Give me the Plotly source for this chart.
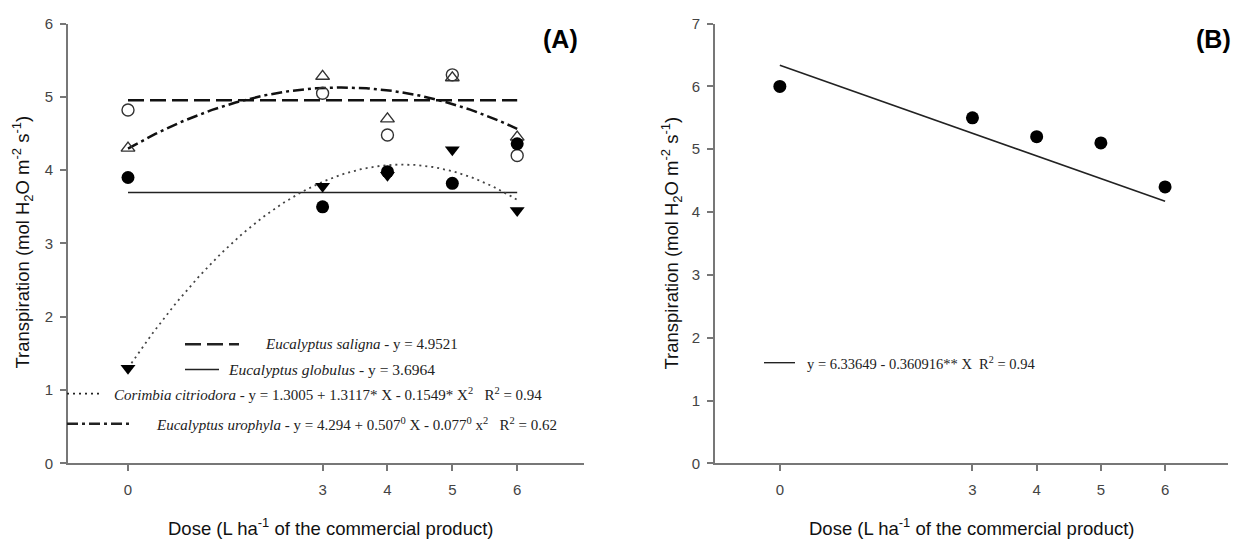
import numpy as np
import plotly.graph_objects as go

W, H = 1243, 548

# ---------------- data ----------------
doses = [0, 3, 4, 5, 6]
saligna = [4.82, 5.05, 4.48, 5.30, 4.20]      # open circles
urophyla = [4.30, 5.28, 4.70, 5.26, 4.45]     # open triangles
globulus = [3.90, 3.50, 3.98, 3.82, 4.36]     # filled circles
citriodora = [1.30, 3.78, 3.93, 4.28, 3.45]   # filled down triangles
panel_b = [6.00, 5.50, 5.20, 5.10, 4.40]

saligna_mean = 4.9521
globulus_mean = 3.6964
citriodora_coef = [1.3005, 1.3117, -0.1549]
urophyla_coef = [4.294, 0.507, -0.077]
b_coef = [6.33649, -0.360916]

x_ticks = [0, 3, 4, 5, 6]
x_tick_labels = ["0", "3", "4", "5", "6"]

xs = np.linspace(0, 6, 200)


def quad(c, x):
    return c[0] + c[1] * x + c[2] * x ** 2


def px(x):
    return x / W


def py(y):
    return 1 - y / H


DASH = "16px,6px"
DASHDOT = "11px,4px,3px,4px"
DOT = "2px,4px"

fig = go.Figure()

# Panel A fits
fig.add_trace(go.Scatter(x=[0, 6], y=[saligna_mean, saligna_mean], mode="lines",
                         line=dict(color="#111", width=2.5, dash=DASH),
                         xaxis="x", yaxis="y"))
fig.add_trace(go.Scatter(x=[0, 6], y=[globulus_mean, globulus_mean], mode="lines",
                         line=dict(color="#222", width=1.4),
                         xaxis="x", yaxis="y"))
fig.add_trace(go.Scatter(x=xs, y=quad(citriodora_coef, xs), mode="lines",
                         line=dict(color="#444", width=1.8, dash=DOT),
                         xaxis="x", yaxis="y"))
fig.add_trace(go.Scatter(x=xs, y=quad(urophyla_coef, xs), mode="lines",
                         line=dict(color="#111", width=2.5, dash=DASHDOT),
                         xaxis="x", yaxis="y"))

# Panel A points
fig.add_trace(go.Scatter(x=doses, y=saligna, mode="markers",
                         marker=dict(symbol="circle-open", size=12, color="#333",
                                     line=dict(width=1.4, color="#333")),
                         xaxis="x", yaxis="y"))
fig.add_trace(go.Scatter(x=doses, y=urophyla, mode="markers",
                         marker=dict(symbol="triangle-up-open", size=12, color="#333",
                                     line=dict(width=1.4, color="#333")),
                         xaxis="x", yaxis="y"))
fig.add_trace(go.Scatter(x=doses, y=globulus, mode="markers",
                         marker=dict(symbol="circle", size=13, color="#000"),
                         xaxis="x", yaxis="y"))
fig.add_trace(go.Scatter(x=doses, y=citriodora, mode="markers",
                         marker=dict(symbol="triangle-down", size=13, color="#000"),
                         xaxis="x", yaxis="y"))

# Panel B
fig.add_trace(go.Scatter(x=[0, 6], y=[b_coef[0], b_coef[0] + b_coef[1] * 6], mode="lines",
                         line=dict(color="#222", width=1.6),
                         xaxis="x2", yaxis="y2"))
fig.add_trace(go.Scatter(x=doses, y=panel_b, mode="markers",
                         marker=dict(symbol="circle", size=13, color="#000"),
                         xaxis="x2", yaxis="y2"))

ydom = [py(469), py(15)]
tickfont = dict(family="Liberation Sans, Arial", size=15, color="#444")
axis_common = dict(showline=True, linecolor="#777", linewidth=2, ticks="outside",
                   ticklen=6, tickcolor="#777", tickwidth=1.5, showgrid=False, zeroline=False,
                   tickfont=tickfont)

fig.update_layout(
    width=W, height=H, autosize=False, margin=dict(l=0, r=0, t=0, b=0),
    paper_bgcolor="white", plot_bgcolor="white", showlegend=False,
    xaxis=dict(domain=[px(68), px(584)], range=[-0.925, 7.03], tickvals=x_ticks,
               ticktext=x_tick_labels, anchor="y", ticklabelstandoff=6, **axis_common),
    yaxis=dict(domain=ydom, range=[0, 6], tickvals=[0, 1, 2, 3, 4, 5, 6], anchor="x",
               ticklabelstandoff=4, **axis_common),
    xaxis2=dict(domain=[px(715), px(1228)], range=[-1.01, 6.98], tickvals=x_ticks,
                ticktext=x_tick_labels, anchor="y2", ticklabelstandoff=6, **axis_common),
    yaxis2=dict(domain=ydom, range=[0, 7], tickvals=[0, 1, 2, 3, 4, 5, 6, 7], anchor="x2",
                ticklabelstandoff=4, **axis_common),
)

ann = []
sans = "Liberation Sans, Arial"
serif = "Liberation Serif, Times New Roman"
ytitle = "Transpiration (mol H<sub>2</sub>O m<sup>-2</sup> s<sup>-1</sup>)"
xtitle = "Dose (L ha<sup>-1</sup> of the commercial product)"
for cx in (23, 672):
    ann.append(dict(x=px(cx), y=py(241), xref="paper", yref="paper", text=ytitle,
                    textangle=-90, showarrow=False, xanchor="center", yanchor="middle",
                    font=dict(family=sans, size=18.5, color="#111")))
for cx in (330, 971):
    ann.append(dict(x=px(cx), y=py(535), xref="paper", yref="paper", text=xtitle,
                    showarrow=False, xanchor="center", yanchor="middle",
                    font=dict(family=sans, size=18.5, color="#111")))
ann.append(dict(x=px(560), y=py(31), xref="paper", yref="paper", text="<b>(A)</b>",
                showarrow=False, xanchor="center", yanchor="middle",
                font=dict(family=sans, size=25, color="#000")))
ann.append(dict(x=px(1213), y=py(31), xref="paper", yref="paper", text="<b>(B)</b>",
                showarrow=False, xanchor="center", yanchor="middle",
                font=dict(family=sans, size=25, color="#000")))

legend_rows = [
    (263, 346, 15, "<i>Eucalyptus saligna</i> - y = 4.9521"),
    (226, 372, 15.5, "<i>Eucalyptus globulus</i> - y = 3.6964"),
    (112, 397, 15, "<i>Corimbia citriodora</i> - y = 1.3005 + 1.3117* X - 0.1549* X<sup>2</sup>   R<sup>2</sup> = 0.94"),
    (154, 428, 15, "<i>Eucalyptus urophyla</i> - y = 4.294 + 0.507<sup>0</sup> X - 0.077<sup>0</sup> x<sup>2</sup>   R<sup>2</sup> = 0.62"),
    (805, 365, 14.5, "y = 6.33649 - 0.360916** X  R<sup>2</sup> = 0.94"),
]
for lx, ly, fs, t in legend_rows:
    ann.append(dict(x=px(lx), y=py(ly), xref="paper", yref="paper", text=t, xanchor="left",
                    yanchor="middle", showarrow=False,
                    font=dict(family=serif, size=fs, color="#222")))
fig.update_layout(annotations=ann)

samples = [
    dict(x0=185, x1=239, y=346, dash=DASH, width=2.5),
    dict(x0=185, x1=219, y=372, dash="solid", width=1.4),
    dict(x0=67, x1=102, y=397, dash=DOT, width=1.8),
    dict(x0=67, x1=132, y=428, dash=DASHDOT, width=2.5),
    dict(x0=764, x1=795, y=365, dash="solid", width=1.4),
]
for s in samples:
    fig.add_shape(type="line", xref="paper", yref="paper", x0=px(s["x0"]), x1=px(s["x1"]),
                  y0=py(s["y"]), y1=py(s["y"]),
                  line=dict(color="#222", width=s["width"], dash=s["dash"]))

fig.write_html("out.html", config={"responsive": False},
               post_script="document.body.style.margin='0';")
